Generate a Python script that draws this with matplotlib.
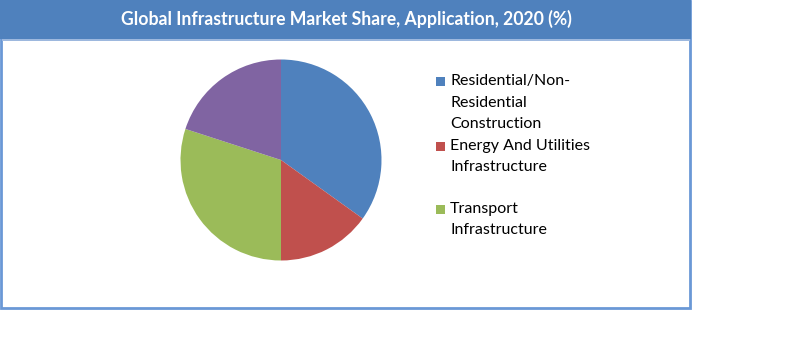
import matplotlib
matplotlib.use("Agg")
import matplotlib.pyplot as plt
from matplotlib.patches import Rectangle

title = "Global Infrastructure Market Share, Application, 2020 (%)"
categories = ["Residential/Non-\nResidential\nConstruction",
              "Energy And Utilities\nInfrastructure",
              "Transport\nInfrastructure",
              "Others"]
values = [34.9, 15.1, 30.0, 20.0]
colors = ["#4F81BD", "#C0504D", "#9BBB59", "#8064A2"]
legend_count = 3

W, H = 800, 353
fig = plt.figure(figsize=(8, 3.53), dpi=100)
fig.patch.set_facecolor("white")

def fx(x):
    return x / W

def fy(y):
    return 1 - y / H

# outer border box
fig.patches.append(Rectangle((fx(1), fy(307.5)), fx(689), (307.5 - 1) / H,
                             transform=fig.transFigure, facecolor="none",
                             edgecolor="#6A98D6", linewidth=2, zorder=0))
# title bar
fig.patches.append(Rectangle((0, fy(38.5)), fx(691), 38.5 / H,
                             transform=fig.transFigure, facecolor="#4F81BD",
                             edgecolor="none", zorder=1))
fig.patches.append(Rectangle((fx(2), fy(41)), fx(688), 2.5 / H,
                             transform=fig.transFigure, facecolor="#9DB8DE",
                             edgecolor="none", zorder=1))
fig.text(fx(346), fy(19), title, ha="center", va="center", color="white",
         fontsize=12.7, fontweight="bold", family=["Lato", "DejaVu Sans"],
         zorder=2)

# pie
cx, cy, r = 281, 160, 100.5
ax = fig.add_axes([fx(cx - r), fy(cy + r), 2 * r / W, 2 * r / H], zorder=5)
ax.pie(values, colors=colors, startangle=90, counterclock=False,
       wedgeprops=dict(linewidth=0))
ax.set_aspect("auto")
ax.set_xlim(-1, 1)
ax.set_ylim(-1, 1)
ax.axis("off")

# legend (manual)
first_line_y = [81.5, 146, 209.5]
line_h = 21
for i in range(legend_count):
    y0 = first_line_y[i]
    fig.patches.append(Rectangle((fx(436), fy(y0 + 4.5)), 9 / W, 9 / H,
                                 transform=fig.transFigure,
                                 facecolor=colors[i], edgecolor="none"))
    for j, line in enumerate(categories[i].split("\n")):
        fig.text(fx(450), fy(y0 + j * line_h), line, ha="left", va="center",
                 fontsize=11.5, color="black",
                 family=["Lato", "DejaVu Sans"])

fig.savefig("out.png", dpi=100, facecolor="white")
